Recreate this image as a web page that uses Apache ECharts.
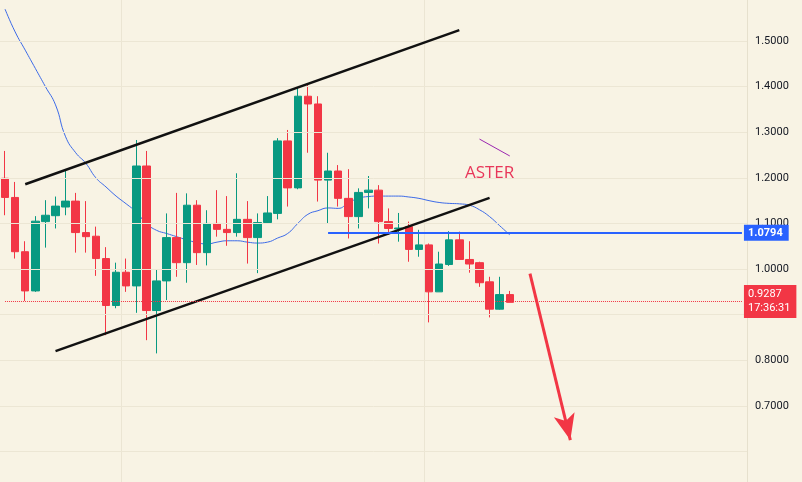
<!DOCTYPE html><html><head><meta charset="utf-8">
<script src="https://cdn.jsdelivr.net/npm/echarts@6/dist/echarts.min.js"></script>
<style>html,body{margin:0;padding:0;background:#f8f3e4}#c{width:802px;height:482px}</style></head><body><div id="c"></div>
<script>
// [open, close, low, high]
const candles = [
[1.199,1.157,1.118,1.259],[1.157,1.038,1.023,1.191],[1.038,0.952,0.930,1.061],[0.952,1.105,0.950,1.116],
[1.104,1.118,1.047,1.151],[1.117,1.138,1.089,1.159],[1.136,1.149,1.118,1.219],[1.149,1.080,1.036,1.167],
[1.080,1.071,1.036,1.149],[1.072,1.023,0.985,1.093],[1.023,0.920,0.855,1.048],[0.920,0.993,0.914,1.014],
[0.993,0.963,0.950,1.023],[0.963,1.226,0.904,1.283],[1.226,0.909,0.844,1.259],[0.909,0.974,0.815,0.998],
[0.974,1.069,0.932,1.122],[1.069,1.014,0.983,1.167],[1.014,1.140,0.970,1.166],[1.140,1.036,1.009,1.151],
[1.036,1.100,1.008,1.129],[1.100,1.087,1.071,1.173],[1.087,1.080,1.051,1.160],[1.080,1.109,1.071,1.210],
[1.109,1.069,1.012,1.149],[1.069,1.102,0.991,1.122],[1.102,1.123,1.100,1.160],[1.122,1.281,1.109,1.287],
[1.281,1.178,1.137,1.305],[1.178,1.379,1.175,1.400],[1.379,1.362,1.255,1.407],[1.362,1.195,1.148,1.379],
[1.195,1.215,1.100,1.255],[1.215,1.155,1.137,1.228],[1.155,1.115,1.067,1.219],[1.115,1.168,1.089,1.177],
[1.168,1.173,1.133,1.204],[1.173,1.104,1.056,1.184],[1.104,1.089,1.075,1.133],[1.088,1.090,1.060,1.123],
[1.093,1.043,1.016,1.104],[1.043,1.053,1.027,1.086],[1.053,0.950,0.883,1.056],[0.950,1.011,0.950,1.038],
[1.010,1.064,1.007,1.083],[1.064,1.021,1.020,1.082],[1.021,1.011,0.992,1.061],[1.014,0.970,0.961,1.016],
[0.972,0.912,0.894,0.983],[0.912,0.944,0.911,0.983],[0.944,0.927,0.927,0.952]
];
const ma = [1.57,1.52,1.48,1.44,1.40,1.36,1.29,1.255,1.232,1.20,1.18,1.16,1.143,1.125,1.10,1.085,1.078,1.071,1.064,1.058,1.055,1.059,1.062,1.062,1.059,1.057,1.059,1.068,1.078,1.10,1.12,1.128,1.134,1.133,1.145,1.155,1.159,1.16,1.16,1.16,1.158,1.155,1.15,1.146,1.144,1.143,1.14,1.13,1.115,1.095,1.075];
const yTicks = [0.6,0.7,0.8,0.9,1.0,1.1,1.2,1.3,1.4,1.5];
const labelTicks = [0.7,0.8,0.9,1.0,1.1,1.2,1.3,1.4,1.5];
const lastPrice = 0.9287, levelPrice = 1.0794;
const nSlots = 74;
const cats = Array.from({length:nSlots},(_,i)=>String(i));
const chart = echarts.init(document.getElementById('c'));
const G='#089981', R='#f23645';
const gridLines = yTicks.map(v=>({yAxis:v,lineStyle:{color:'#ece6d4',width:1,type:'solid'},label:{show:false}}));
chart.setOption({
  animation:false, backgroundColor:'#f8f3e4',
  grid:{left:0,right:55,top:0,bottom:0},
  xAxis:{type:'category',data:cats,boundaryGap:true,axisLine:{show:false},axisTick:{show:false},axisLabel:{show:false},
    splitLine:{show:true,interval:(i)=>i===12||i===42,lineStyle:{color:'#ebe5d3'}}},
  yAxis:{type:'value',position:'right',min:0.533,max:1.590,
    axisLine:{show:true,lineStyle:{color:'#e6e0cd'}},axisTick:{show:false},
    splitLine:{show:false},
    axisLabel:{customValues:labelTicks,margin:8,color:'#131722',fontSize:11,fontFamily:'Roboto',
      formatter:v=>v.toFixed(4)}},
  series:[
    {type:'line',data:[],silent:true,markLine:{symbol:['none','none'],silent:true,data:gridLines},z:0},
    {type:'candlestick',data:candles,barWidth:8,
     itemStyle:{color:G,color0:R,borderColor:G,borderColor0:R,borderWidth:1},
     markLine:{symbol:['none','none'],silent:true,animation:false,data:[
       [{coord:['2',1.186],lineStyle:{color:'#111',width:2.5,type:'solid'},label:{show:false}},{coord:['45',1.524]}],
       [{coord:['5',0.820],lineStyle:{color:'#111',width:2.5,type:'solid'},label:{show:false}},{coord:['48',1.156]}],
       [{coord:['47',1.285],lineStyle:{color:'#9c27b0',width:1,type:'solid'},label:{show:false}},{coord:['50',1.248]}],
       [{coord:['32',levelPrice],lineStyle:{color:'#2962ff',width:2,type:'solid'},
         label:{show:true,position:'end',distance:2,formatter:levelPrice.toFixed(4),color:'#fff',backgroundColor:'#2962ff',padding:[3,6,2,4],fontSize:11,fontWeight:'bold',fontFamily:'Roboto'}},
        {coord:['73',levelPrice]}],
       [{coord:['0',lastPrice],lineStyle:{color:R,width:1,type:'dotted'},
         label:{show:true,position:'end',distance:2,formatter:lastPrice.toFixed(4)+'\n17:36:31',color:'#fff',backgroundColor:R,padding:[3,6,2,4],fontSize:11,lineHeight:14,fontFamily:'Roboto'}},
        {coord:['73',lastPrice]}],
       [{coord:['52',0.99],symbol:'none',lineStyle:{color:R,width:3,type:'solid'},label:{show:false}},{coord:['56',0.625],symbol:'arrow',symbolSize:[16,26]}]
     ]},
     markPoint:{symbol:'circle',symbolSize:1,itemStyle:{color:'transparent'},data:[
       {coord:['48',1.21],label:{show:true,formatter:'ASTER',color:'#e8375a',fontSize:17,fontFamily:'Open Sans'}}]}
    },
    {type:'line',data:ma,showSymbol:false,smooth:true,lineStyle:{color:'#3d6be8',width:1},z:1}
  ]
});
</script></body></html>
